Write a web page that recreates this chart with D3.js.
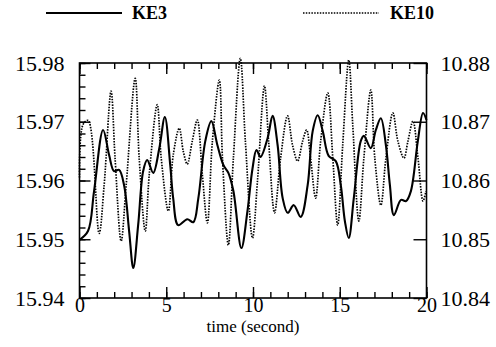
<!DOCTYPE html>
<html>
<head>
<meta charset="utf-8">
<script src="https://cdn.jsdelivr.net/npm/d3@7"></script>
<style>
  body { margin: 0; background: #fff; }
  text { font-family: "Liberation Serif", "Times New Roman", serif; fill: #000; }
</style>
</head>
<body>
<div id="chart"></div>
<script>
// series
let ke3Time = [0, 0.49, 0.84, 1.36, 1.71, 1.99, 2.28, 2.57, 2.86, 3.1, 3.38, 3.67, 3.9, 4.25, 4.6, 4.92,
  5.23, 5.4, 5.69, 6.21, 6.56, 6.85, 7.25, 7.6, 7.95, 8.3, 8.58, 8.87, 9.33, 9.68, 9.97, 10.2, 10.43,
  10.84, 11.13, 11.42, 11.71, 12.0, 12.35, 12.75, 13.15, 13.44, 13.73, 14.02, 14.36, 14.77, 15.06,
  15.3, 15.52, 15.81, 16.21, 16.39, 16.79, 17.08, 17.37, 17.66, 17.89, 18.12, 18.53, 18.82, 19.1,
  19.5, 19.8, 20];
let ke3Values = [15.9499, 15.9514, 15.9582, 15.9686, 15.9643, 15.9616, 15.9618, 15.9592, 15.9514,
  15.9451, 15.9524, 15.9616, 15.9635, 15.9613, 15.9655, 15.9708, 15.9626, 15.957, 15.9524, 15.9534,
  15.9529, 15.957, 15.9667, 15.9701, 15.966, 15.9626, 15.9613, 15.9582, 15.9485, 15.9548, 15.962,
  15.9652, 15.964, 15.9672, 15.971, 15.966, 15.957, 15.9545, 15.9558, 15.9538, 15.9592, 15.9684,
  15.9711, 15.9684, 15.9642, 15.9633, 15.9592, 15.953, 15.9502, 15.957, 15.9667, 15.9676, 15.9655,
  15.9686, 15.9706, 15.966, 15.9592, 15.9541, 15.9567, 15.9565, 15.9582, 15.9667, 15.9715, 15.9703];

let ke10Time = [0, 0.2, 0.5, 1.13, 1.42, 1.82, 2.05, 2.4, 2.69, 3.21, 3.44, 3.79, 4.02, 4.48, 4.71,
  5.12, 5.4, 5.75, 5.98, 6.21, 6.5, 6.79, 7.08, 7.37, 7.66, 8.06, 8.24, 8.58, 8.87, 9.27, 9.56, 9.97,
  10.26, 10.66, 10.9, 11.24, 11.59, 11.99, 12.28, 12.57, 12.86, 13.09, 13.32, 13.61, 13.9, 14.31,
  14.6, 14.88, 15.17, 15.52, 15.75, 16.1, 16.39, 16.79, 17.02, 17.37, 17.66, 18.06, 18.35, 18.7,
  18.93, 19.22, 19.51, 19.8, 19.97];
let ke10Values = [10.8605, 10.8695, 10.8702, 10.851, 10.8592, 10.8752, 10.8638, 10.8497, 10.8592,
  10.8774, 10.8638, 10.8514, 10.861, 10.8729, 10.8638, 10.8548, 10.8643, 10.8689, 10.865, 10.8628,
  10.8667, 10.8703, 10.861, 10.8528, 10.8667, 10.8771, 10.8638, 10.849, 10.8638, 10.8808, 10.8667,
  10.8502, 10.86, 10.8761, 10.8667, 10.8545, 10.8638, 10.871, 10.866, 10.8633, 10.8667, 10.8686,
  10.8638, 10.857, 10.8667, 10.8749, 10.8638, 10.8524, 10.866, 10.8805, 10.8694, 10.8531, 10.8638,
  10.8754, 10.8638, 10.8558, 10.8638, 10.8715, 10.8667, 10.8638, 10.8667, 10.8701, 10.8638,
  10.8565, 10.8582];

let xMajorTicks = [0, 5, 10, 15, 20];
let leftTicks = [15.94, 15.95, 15.96, 15.97, 15.98];
let rightTicks = [10.84, 10.85, 10.86, 10.87, 10.88];
let seriesNames = ['KE3', 'KE10'];

let svgWidth = 496;
let svgHeight = 347;
let plot = { left: 79.5, right: 426.5, top: 63, bottom: 298 };

let svg = d3.select('#chart')
  .append('svg')
  .attr('width', svgWidth)
  .attr('height', svgHeight);

let xScale = d3.scaleLinear().domain([0, 20]).range([plot.left, plot.right]);
let yLeft = d3.scaleLinear().domain([15.94, 15.98]).range([plot.bottom, plot.top]);
let yRight = d3.scaleLinear().domain([10.84, 10.88]).range([plot.bottom, plot.top]);

// minor ticks (no labels)
let xMinor = d3.range(0, 21, 1);
let leftMinor = d3.range(0, 21).map(i => 15.94 + i * 0.002);

svg.append('g')
  .attr('transform', `translate(0,${plot.bottom})`)
  .call(d3.axisBottom(xScale).tickValues(xMinor).tickSizeInner(-6).tickSizeOuter(0).tickFormat(''));
svg.append('g')
  .attr('transform', `translate(0,${plot.top})`)
  .call(d3.axisTop(xScale).tickValues(xMinor).tickSizeInner(-6).tickSizeOuter(0).tickFormat(''));
svg.append('g')
  .attr('transform', `translate(${plot.left},0)`)
  .call(d3.axisLeft(yLeft).tickValues(leftMinor).tickSizeInner(-6).tickSizeOuter(0).tickFormat(''));

// major ticks with labels
svg.append('g')
  .attr('class', 'xaxis')
  .attr('transform', `translate(0,${plot.bottom})`)
  .call(d3.axisBottom(xScale).tickValues(xMajorTicks).tickSizeInner(-11).tickSizeOuter(0).tickPadding(0).tickFormat(d3.format('d')));
svg.append('g')
  .attr('transform', `translate(0,${plot.top})`)
  .call(d3.axisTop(xScale).tickValues(xMajorTicks).tickSizeInner(-11).tickSizeOuter(0).tickFormat(''));
svg.append('g')
  .attr('class', 'yaxis')
  .attr('transform', `translate(${plot.left},0)`)
  .call(d3.axisLeft(yLeft).tickValues(leftTicks).tickSizeInner(-11).tickSizeOuter(0).tickPadding(15).tickFormat(d3.format('.2f')));
svg.append('g')
  .attr('class', 'yaxis')
  .attr('transform', `translate(${plot.right},0)`)
  .call(d3.axisRight(yRight).tickValues(rightTicks).tickSizeInner(-13).tickSizeOuter(0).tickPadding(14).tickFormat(d3.format('.2f')));

svg.selectAll('.domain').remove();
svg.selectAll('.tick line').attr('stroke', '#000').attr('stroke-width', 1.4);
svg.selectAll('.xaxis text').style('font-size', '20px').attr('dy', '0.7em');
svg.selectAll('.yaxis text').style('font-size', '22px');

// frame
svg.append('rect')
  .attr('x', plot.left)
  .attr('y', plot.top)
  .attr('width', plot.right - plot.left)
  .attr('height', plot.bottom - plot.top)
  .attr('fill', 'none')
  .attr('stroke', '#000')
  .attr('stroke-width', 1.6);

// lines
let ke3Line = d3.line()
  .x((d, i) => xScale(ke3Time[i]))
  .y(d => yLeft(d))
  .curve(d3.curveCatmullRom.alpha(0.5));
let ke10Line = d3.line()
  .x((d, i) => xScale(ke10Time[i]))
  .y(d => yRight(d))
  .curve(d3.curveCatmullRom.alpha(0.5));

svg.append('path')
  .attr('d', ke10Line(ke10Values))
  .attr('fill', 'none')
  .attr('stroke', '#000')
  .attr('stroke-width', 1.7)
  .attr('stroke-dasharray', '1.5,1.3');

svg.append('path')
  .attr('d', ke3Line(ke3Values))
  .attr('fill', 'none')
  .attr('stroke', '#000')
  .attr('stroke-width', 2.1);

// legend
let legend = svg.append('g');
legend.append('line')
  .attr('x1', 46).attr('x2', 122).attr('y1', 13).attr('y2', 13)
  .attr('stroke', '#000').attr('stroke-width', 1.8);
legend.append('text')
  .attr('x', 132).attr('y', 19)
  .style('font-size', '18px').style('font-weight', 'bold')
  .text(seriesNames[0]);
legend.append('line')
  .attr('x1', 303).attr('x2', 379).attr('y1', 13).attr('y2', 13)
  .attr('stroke', '#000').attr('stroke-width', 1.6)
  .attr('stroke-dasharray', '1.5,1.3');
legend.append('text')
  .attr('x', 390).attr('y', 19)
  .style('font-size', '18px').style('font-weight', 'bold')
  .text(seriesNames[1]);

// axis title
svg.append('text')
  .attr('x', (plot.left + plot.right) / 2)
  .attr('y', 332)
  .attr('text-anchor', 'middle')
  .style('font-size', '17px')
  .text('time (second)');
</script>
</body>
</html>
